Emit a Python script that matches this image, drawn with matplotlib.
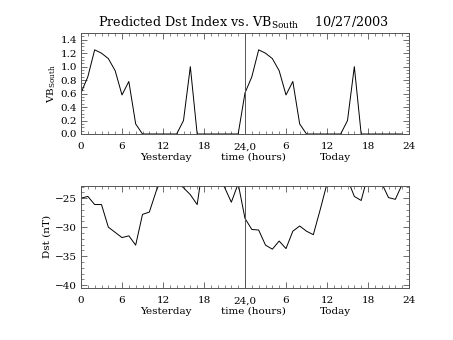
import numpy as np
import matplotlib.pyplot as plt
from matplotlib.ticker import MultipleLocator, FixedLocator

plt.rcParams['font.family'] = ['DejaVu Serif']
plt.rcParams['mathtext.fontset'] = 'dejavuserif'

hours = np.arange(48)

# VB south, one day pattern (repeated for yesterday and today)
vb_day = [0.61, 0.85, 1.25, 1.20, 1.12, 0.94, 0.58, 0.78, 0.15, 0.0,
          0.0, 0.0, 0.0, 0.0, 0.0, 0.20, 1.00, 0.0, 0.0, 0.0,
          0.0, 0.0, 0.0, 0.0]
vb_south = vb_day + vb_day

# Dst (nT), values above the top of the plot get clipped
dst = [-25.0, -24.7, -26.1, -26.1, -30.0, -30.9, -31.8, -31.5, -33.1, -27.8,
       -27.4, -23.8, -21.0, -21.0, -22.2, -23.2, -24.4, -26.1, -18.1, -20.0,
       -22.1, -23.1, -25.7, -22.5,
       -28.5, -30.4, -30.5, -33.1, -33.8, -32.4, -33.7, -30.7, -29.8, -30.7,
       -31.3, -27.0, -22.5, -21.0, -21.0, -21.7, -24.7, -25.4, -21.0, -21.0,
       -22.4, -24.9, -25.2, -22.6]

tick_pos = [0, 6, 12, 18, 24, 30, 36, 42, 48]
tick_lab = ['0', '6', '12', '18', '24,0', '6', '12', '18', '24']

fig = plt.figure(figsize=(4.53, 3.40), dpi=100)
W, H = 453.0, 340.0

ax1 = fig.add_axes([81 / W, 1 - 134 / H, 328 / W, 101 / H])
ax2 = fig.add_axes([81 / W, 1 - 288 / H, 328 / W, 102 / H])

ax1.plot(hours, vb_south, color='black', lw=0.7)
ax1.set_ylim(0, 1.5)
ax1.yaxis.set_major_locator(FixedLocator([0, 0.2, 0.4, 0.6, 0.8, 1.0, 1.2, 1.4]))
ax1.yaxis.set_minor_locator(MultipleLocator(0.05))
ax1.set_yticklabels(['0.0', '0.2', '0.4', '0.6', '0.8', '1.0', '1.2', '1.4'])

ax2.plot(hours, dst, color='black', lw=0.7)
ax2.set_ylim(-40.5, -22.9)
ax2.yaxis.set_major_locator(FixedLocator([-40, -35, -30, -25]))
ax2.yaxis.set_minor_locator(MultipleLocator(1))

for ax in (ax1, ax2):
    ax.set_xlim(0, 48)
    ax.set_xticks(tick_pos)
    ax.set_xticklabels(tick_lab)
    ax.xaxis.set_minor_locator(MultipleLocator(1))
    ax.axvline(24, color='#555555', lw=0.7)
    ax.tick_params(which='both', direction='in', top=True, right=True,
                   labelsize=7.5, color='#555555')
    ax.tick_params(axis='x', pad=6)
    ax.tick_params(axis='y', pad=3)
    ax.tick_params(which='major', length=4, width=0.6)
    ax.tick_params(which='minor', length=2, width=0.5)
    for s in ax.spines.values():
        s.set_linewidth(0.7)
        s.set_color('#555555')

fig.text(243 / W, 1 - 27 / H, r'Predicted Dst Index vs. VB$_{\mathrm{South}}$    10/27/2003',
         ha='center', va='baseline', fontsize=9.2)

fig.text(52 / W, 1 - 84 / H, r'VB$_{\mathrm{South}}$', rotation=90, ha='center', va='center',
         fontsize=7.5)
fig.text(47 / W, 1 - 236 / H, 'Dst (nT)', rotation=90, ha='center', va='center', fontsize=7.5)

for y in (157, 311):
    fig.text(166 / W, 1 - y / H, 'Yesterday', ha='center', va='center', fontsize=7.5)
    fig.text(253 / W, 1 - y / H, 'time (hours)', ha='center', va='center', fontsize=7.5)
    fig.text(335 / W, 1 - y / H, 'Today', ha='center', va='center', fontsize=7.5)

fig.savefig('out.png', dpi=100)
